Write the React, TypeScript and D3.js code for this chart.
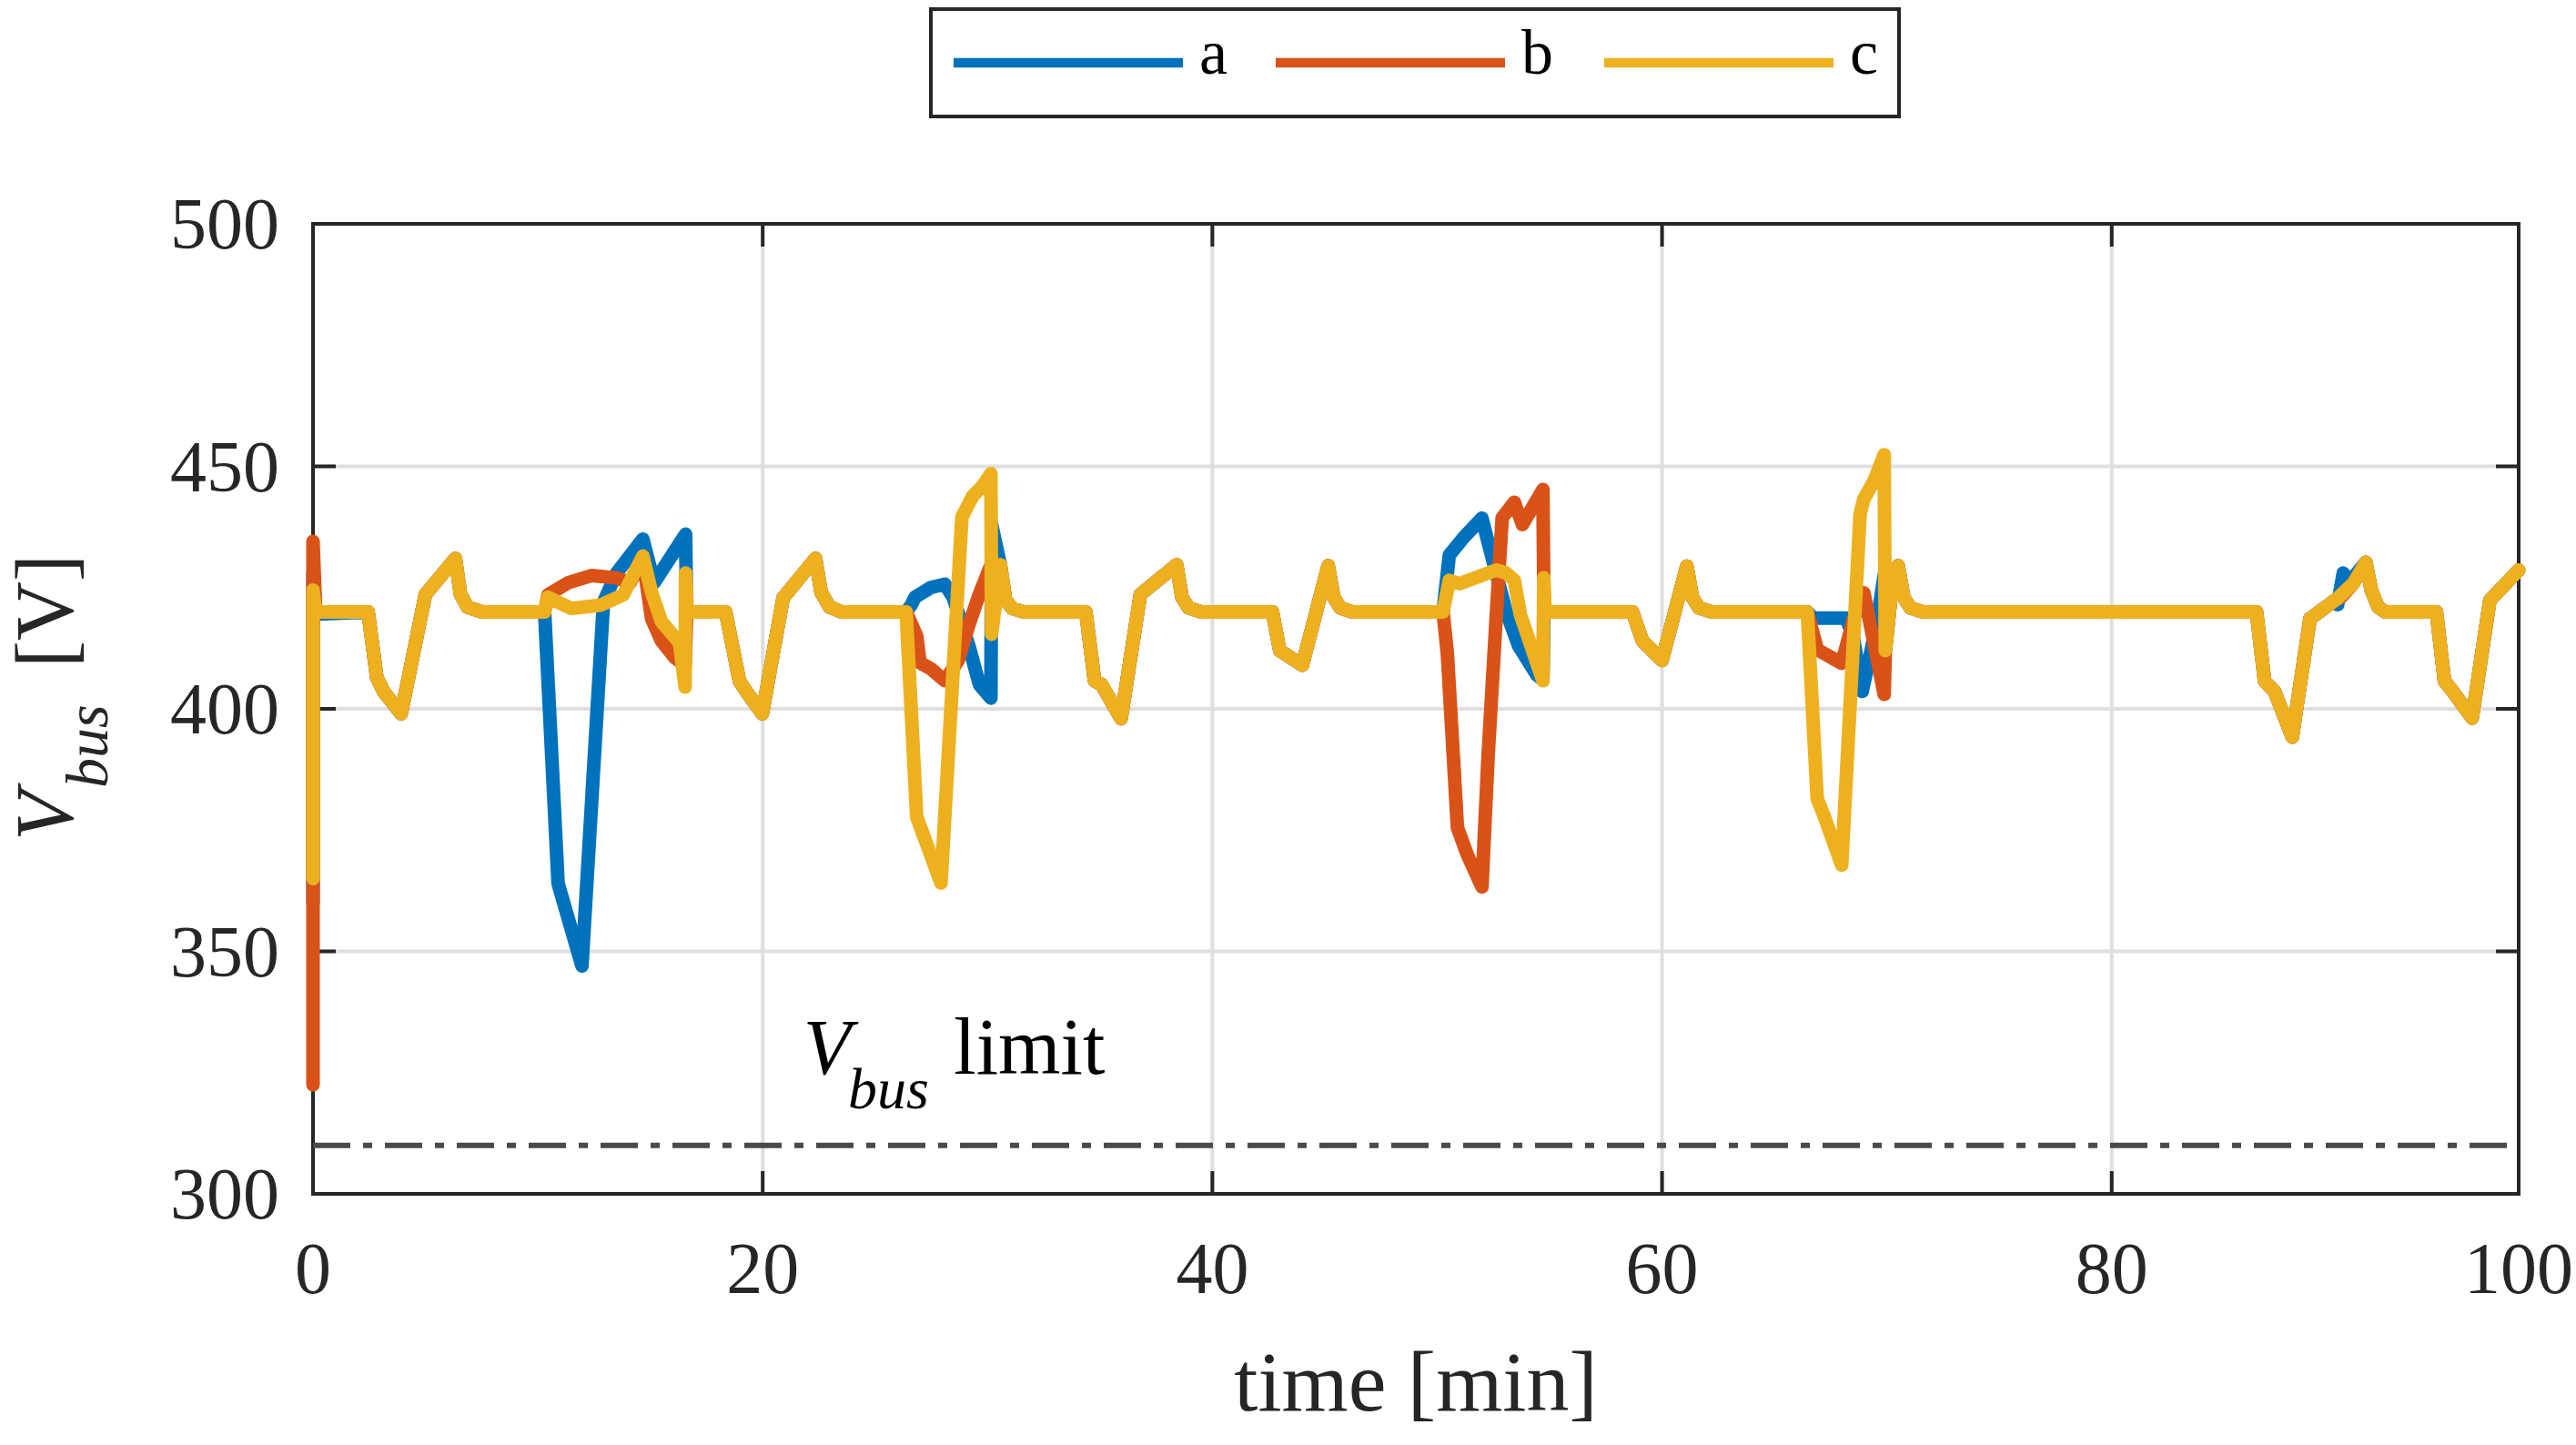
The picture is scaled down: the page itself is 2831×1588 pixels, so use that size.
import { useRef, useEffect } from 'react';
import * as d3 from 'd3';

type Pt = [number, number];

// series names and colours (MATLAB default order)
const seriesNames = ['a', 'b', 'c'];
const seriesColors = ['#0072BD', '#D95319', '#EDB120'];

// axis ticks
const xTickValues = [0, 20, 40, 60, 80, 98.1];
const xTickLabels = ['0', '20', '40', '60', '80', '100'];
const yTickValues = [300, 350, 400, 450, 500];
const limitValue = 310;

// transient at t = 0
const startA: Pt[] = [[0, 360], [0, 428], [0.12, 419.5]];
const startB: Pt[] = [[0, 322.5], [0, 434.5], [0.12, 420]];
const startC: Pt[] = [[0, 365], [0, 424.5], [0.12, 420]];

// stretches where all three buses overlap
const shared0: Pt[] = [
  [2.45, 420], [2.84, 406.4], [3.15, 403.5], [3.92, 399], [5.0, 423.6], [6.33, 431],
  [6.56, 423.6], [6.87, 421], [7.5, 420], [10.3, 420],
];
const shared1: Pt[] = [
  [16.7, 420], [18.35, 420], [18.97, 405.7], [19.28, 403.5], [19.98, 399], [20.91, 422.9],
  [22.35, 431], [22.6, 424], [22.97, 421], [23.5, 420], [26.38, 420],
];
const shared2: Pt[] = [
  [30.8, 422.5], [31.1, 420.7], [31.6, 420], [34.37, 420], [34.76, 405.8], [35.07, 405],
  [35.94, 398], [36.8, 423.6], [38.41, 429.7], [38.65, 423], [38.95, 420.8], [39.5, 420],
  [42.67, 420], [43.0, 412], [44.0, 409], [45.15, 429.5], [45.4, 423], [45.7, 420.8],
  [46.2, 420], [50.26, 420],
];
const shared3: Pt[] = [
  [54.85, 420], [58.68, 420], [59.13, 414], [60.0, 410], [61.1, 429.4], [61.35, 423],
  [61.65, 420.8], [62.2, 420], [66.46, 420],
];
const shared4: Pt[] = [
  [70.2, 424], [70.5, 429.5], [70.75, 423], [71.05, 420.8], [71.6, 420], [86.44, 420],
  [86.8, 405.7], [87.24, 403.6], [88.03, 394.2], [88.82, 418.6], [90.0, 422.6],
];
const shared5: Pt[] = [
  [91.3, 430.2], [91.55, 424.4], [91.85, 421], [92.15, 420], [94.44, 420], [94.8, 405.7],
  [95.17, 403.6], [96.03, 398.1], [96.82, 422.4], [98.1, 428.6],
];

// event 1 (~10-17 min)
const eventA1: Pt[] = [
  [10.9, 364], [11.96, 347], [12.92, 422], [13.5, 428], [14.67, 435], [15.17, 426],
  [16.57, 436], [16.62, 420],
];
const eventB1: Pt[] = [
  [10.45, 423.5], [11.35, 426], [12.4, 427.5], [13.5, 427], [14.1, 426], [14.67, 431],
  [15.06, 418.6], [15.5, 414], [16.1, 410.5], [16.55, 409], [16.62, 420],
];
const eventC1: Pt[] = [
  [10.44, 423], [11.5, 420.7], [12.8, 421.4], [13.8, 423.5], [14.67, 431.5], [15.06, 424],
  [15.5, 418], [16.3, 413.6], [16.55, 404.5], [16.57, 428], [16.65, 420],
];

// event 2 (~26-31 min)
const eventA2: Pt[] = [
  [26.62, 421.5], [26.77, 423], [27.47, 425], [28.1, 425.7], [28.47, 423], [29.17, 413],
  [29.64, 405], [30.15, 402.2], [30.18, 438], [30.57, 429.7],
];
const eventB2: Pt[] = [
  [26.85, 415], [27.0, 409.5], [27.47, 408.3], [28.1, 405.8], [28.7, 410], [29.17, 417.3],
  [29.64, 423.7], [29.95, 427.3], [30.18, 430], [30.57, 429.7],
];
const eventC2: Pt[] = [
  [26.85, 377.7], [27.93, 364.1], [28.86, 439.5], [29.33, 443.8], [29.79, 446],
  [30.15, 448.5], [30.18, 415.4], [30.57, 429.7],
];

// event 3 (~50-55 min)
const eventA3: Pt[] = [
  [50.54, 431.7], [51.17, 435.3], [51.99, 439.3], [52.62, 428], [53.07, 420], [53.62, 413],
  [54.43, 407], [54.7, 406], [54.75, 420],
];
const eventB3: Pt[] = [
  [50.45, 411.5], [50.72, 390], [50.9, 375.5], [51.35, 369.8], [51.99, 363.3], [52.26, 390],
  [52.62, 418.6], [52.89, 439.4], [53.43, 442.6], [53.79, 438], [54.7, 445.2], [54.75, 420],
];
const eventC3: Pt[] = [
  [50.54, 426.5], [50.99, 425.8], [52.26, 428], [52.62, 428.6], [53.07, 428], [53.43, 426.5],
  [53.7, 419.4], [54.07, 414.4], [54.7, 405.8], [54.74, 427], [54.8, 420],
];

// event 4 (~66-70 min)
const eventA4: Pt[] = [
  [66.73, 418.7], [68.18, 418.7], [68.5, 415], [68.9, 403.6], [69.3, 412], [69.63, 420],
  [69.9, 428], [69.93, 412],
];
const eventB4: Pt[] = [
  [66.91, 412.2], [67.99, 409.4], [68.53, 418.7], [68.98, 423.9], [69.88, 403], [69.93, 412],
];
const eventC4: Pt[] = [
  [66.9, 381.5], [67.2, 378], [67.99, 367.8], [68.81, 440.2], [68.98, 443.3], [69.43, 447],
  [69.88, 452.4], [69.93, 412],
];

// small blip around 90 min
const tailA: Pt[] = [[90.05, 421.5], [90.3, 428], [90.55, 426]];
const tailB: Pt[] = [[90.2, 423], [90.75, 425.9]];
const tailC: Pt[] = [[90.75, 425.9]];

const seriesA: Pt[] = [
  ...startA, ...shared0, ...eventA1, ...shared1, ...eventA2, ...shared2, ...eventA3,
  ...shared3, ...eventA4, ...shared4, ...tailA, ...shared5,
];
const seriesB: Pt[] = [
  ...startB, ...shared0, ...eventB1, ...shared1, ...eventB2, ...shared2, ...eventB3,
  ...shared3, ...eventB4, ...shared4, ...tailB, ...shared5,
];
const seriesC: Pt[] = [
  ...startC, ...shared0, ...eventC1, ...shared1, ...eventC2, ...shared2, ...eventC3,
  ...shared3, ...eventC4, ...shared4, ...tailC, ...shared5,
];
const allSeries = [seriesA, seriesB, seriesC];

const FONT = "'Liberation Serif', 'Times New Roman', serif";
const INK = '#262626';

export default function App() {
  const svgRef = useRef<SVGSVGElement>(null);

  useEffect(() => {
    if (!svgRef.current) return;
    const svg = d3.select(svgRef.current);
    svg.selectAll('*').remove();

    const width = 2831;
    const height = 1588;
    const plot = { left: 344, right: 2768, top: 246, bottom: 1312 };

    svg.attr('width', width).attr('height', height);

    const x = d3.scaleLinear().domain([0, 98.1]).range([plot.left, plot.right]);
    const y = d3.scaleLinear().domain([300, 500]).range([plot.bottom, plot.top]);

    svg.append('rect').attr('width', width).attr('height', height).attr('fill', '#fff');

    // grid
    const grid = svg.append('g').attr('stroke', '#dfdfdf').attr('stroke-width', 4);
    xTickValues.slice(1, -1).forEach(v => {
      grid.append('line')
        .attr('x1', x(v)).attr('x2', x(v))
        .attr('y1', plot.top).attr('y2', plot.bottom);
    });
    yTickValues.slice(1, -1).forEach(v => {
      grid.append('line')
        .attr('x1', plot.left).attr('x2', plot.right)
        .attr('y1', y(v)).attr('y2', y(v));
    });

    // inward ticks on all four sides
    const ticks = svg.append('g').attr('stroke', INK).attr('stroke-width', 4);
    const tickLen = 25;
    xTickValues.forEach(v => {
      ticks.append('line').attr('x1', x(v)).attr('x2', x(v))
        .attr('y1', plot.bottom).attr('y2', plot.bottom - tickLen);
      ticks.append('line').attr('x1', x(v)).attr('x2', x(v))
        .attr('y1', plot.top).attr('y2', plot.top + tickLen);
    });
    yTickValues.forEach(v => {
      ticks.append('line').attr('y1', y(v)).attr('y2', y(v))
        .attr('x1', plot.left).attr('x2', plot.left + tickLen);
      ticks.append('line').attr('y1', y(v)).attr('y2', y(v))
        .attr('x1', plot.right).attr('x2', plot.right - tickLen);
    });

    // box
    svg.append('rect')
      .attr('x', plot.left).attr('y', plot.top)
      .attr('width', plot.right - plot.left).attr('height', plot.bottom - plot.top)
      .attr('fill', 'none').attr('stroke', INK).attr('stroke-width', 4);

    // tick labels
    xTickValues.forEach((v, i) => {
      svg.append('text')
        .attr('x', x(v)).attr('y', 1421)
        .attr('text-anchor', 'middle')
        .style('font-family', FONT).style('font-size', '80px').style('fill', INK)
        .text(xTickLabels[i]);
    });
    yTickValues.forEach(v => {
      svg.append('text')
        .attr('x', 307).attr('y', y(v) + 27)
        .attr('text-anchor', 'end')
        .style('font-family', FONT).style('font-size', '80px').style('fill', INK)
        .text(String(v));
    });

    // limit line
    svg.append('line')
      .attr('x1', x(0)).attr('x2', x(98.1))
      .attr('y1', y(limitValue)).attr('y2', y(limitValue))
      .attr('stroke', '#4a4a4a').attr('stroke-width', 6)
      .attr('stroke-dasharray', '41 14 10 14');

    // data lines
    const line = d3.line<Pt>().x(d => x(d[0])).y(d => y(d[1]));
    allSeries.forEach((s, i) => {
      svg.append('path')
        .datum(s)
        .attr('d', line)
        .attr('fill', 'none')
        .attr('stroke', seriesColors[i])
        .attr('stroke-width', 15)
        .attr('stroke-linejoin', 'round')
        .attr('stroke-linecap', 'round');
    });

    // annotation "V_bus limit"
    const ann = svg.append('g')
      .style('font-family', FONT).style('fill', '#000');
    ann.append('text').attr('x', x(21.8)).attr('y', y(324.8))
      .style('font-size', '86px').style('font-style', 'italic').text('V');
    ann.append('text').attr('x', x(23.8)).attr('y', y(324.8) + 38)
      .style('font-size', '64px').style('font-style', 'italic').text('bus');
    ann.append('text').attr('x', x(28.5)).attr('y', y(324.8))
      .style('font-size', '88px').text('limit');

    // axis labels
    svg.append('text')
      .attr('x', (plot.left + plot.right) / 2).attr('y', 1550)
      .attr('text-anchor', 'middle')
      .style('font-family', FONT).style('font-size', '94px').style('fill', INK)
      .text('time [min]');

    const yl = svg.append('text')
      .attr('transform', 'translate(80,924) rotate(-90)')
      .style('font-family', FONT).style('font-size', '90px').style('fill', INK);
    yl.append('tspan').attr('x', 0).attr('y', 0).style('font-style', 'italic').text('V');
    yl.append('tspan').attr('x', 58).attr('y', 38)
      .style('font-style', 'italic').style('font-size', '66px').text('bus');
    yl.append('tspan').attr('x', 190).attr('y', 0).text('[V]');

    // legend
    const lg = svg.append('g');
    lg.append('rect')
      .attr('x', 1023).attr('y', 10).attr('width', 1064).attr('height', 118)
      .attr('fill', '#fff').attr('stroke', INK).attr('stroke-width', 4);
    const lineStarts = [1048, 1402, 1763];
    seriesNames.forEach((name, i) => {
      lg.append('line')
        .attr('x1', lineStarts[i]).attr('x2', lineStarts[i] + 252)
        .attr('y1', 69).attr('y2', 69)
        .attr('stroke', seriesColors[i]).attr('stroke-width', 10.5);
      lg.append('text')
        .attr('x', lineStarts[i] + 270).attr('y', 81)
        .style('font-family', FONT).style('font-size', '70px').style('fill', '#000')
        .text(name);
    });
  }, []);

  return (
    <svg
      ref={svgRef}
      style={{ position: 'absolute', left: 0, top: 0, display: 'block' }}
    ></svg>
  );
}
